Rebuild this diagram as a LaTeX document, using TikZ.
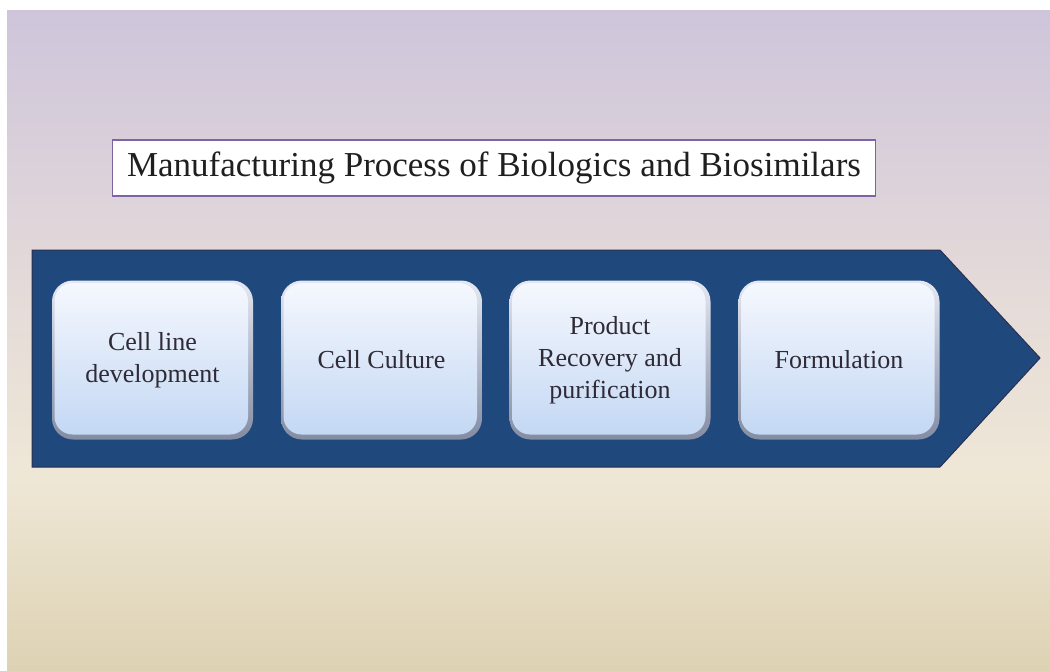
\documentclass[tikz,border=0pt]{standalone}
\usepackage{fontspec}
\setmainfont{Liberation Serif}
\definecolor{bgtop}{HTML}{CEC5DB}
\definecolor{bgmid}{HTML}{E5DBD9}
\definecolor{bglight}{HTML}{EFE7D6}
\definecolor{bgbot}{HTML}{DDD2B3}
\definecolor{arrowblue}{HTML}{1F497D}
\definecolor{arrowedge}{HTML}{2A2F4F}
\definecolor{titleedge}{HTML}{8064A2}
\definecolor{boxtop}{HTML}{F6F8FE}
\definecolor{boxbot}{HTML}{C2D7F3}
\definecolor{beveltop}{HTML}{E4E8F2}
\definecolor{bevelbot}{HTML}{848CA2}
\definecolor{boxtext}{HTML}{2F2A36}
\pgfdeclareverticalshading{bgshade}{100bp}{color(0bp)=(bgbot); color(25bp)=(bgbot); color(39.5bp)=(bglight); color(53bp)=(bgmid); color(75bp)=(bgtop); color(100bp)=(bgtop)}
\tikzset{
  stepbox/.style={
    rounded corners=21pt, minimum width=201pt, minimum height=159pt,
    inner sep=0pt, align=center, text=boxtext,
    font=\fontsize{26}{32}\selectfont,
    top color=beveltop, bottom color=bevelbot,
    path picture={
      \shade[top color=boxtop, bottom color=boxbot, rounded corners=18pt]
        ([shift={(2.5pt,-2.5pt)}]path picture bounding box.north west)
        rectangle ([shift={(-5pt,5pt)}]path picture bounding box.south east);
    }
  },
  titlebox/.style={
    draw=titleedge, line width=1.8pt, fill=white,
    minimum width=763pt, minimum height=56pt, inner sep=0pt,
    text=black!88, font=\fontsize{35}{42}\selectfont
  },
  arrowshape/.style={fill=arrowblue, draw=arrowedge, line width=1pt, line join=miter}
}
\begin{document}
\begin{tikzpicture}[x=1pt,y=-1pt]
\useasboundingbox (0,0) rectangle (1050,670);
\fill[white] (0,0) rectangle (1050,670);
\shade[shading=bgshade] (7,10) rectangle (1050,670);
\node[titlebox] (title) at (494,168) {Manufacturing Process of Biologics and Biosimilars};
\coordinate (a1) at (32,250);
\coordinate (a2) at (940,250);
\coordinate (a3) at (1040,358);
\coordinate (a4) at (940,467);
\coordinate (a5) at (32,467);
\draw[arrowshape] (a1) -- (a2) -- (a3) -- (a4) -- (a5) -- cycle;
\node[stepbox] (s1) at (152.5,360) {Cell line\\development};
\node[stepbox] (s2) at (381.5,360) {Cell Culture};
\node[stepbox] (s3) at (610,360) {Product\\Recovery and\\purification};
\node[stepbox] (s4) at (839,360) {Formulation};
\end{tikzpicture}
\end{document}
